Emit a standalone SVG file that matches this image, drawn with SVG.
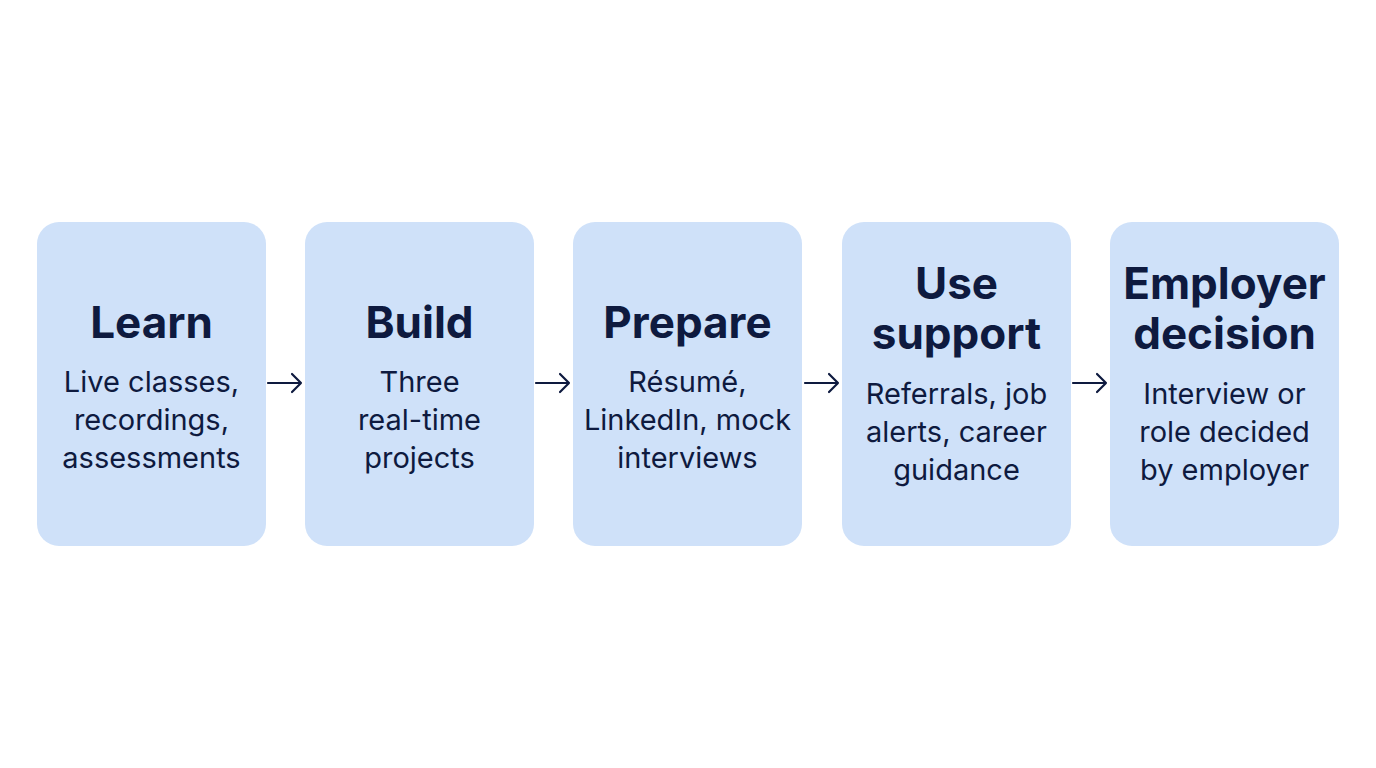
<svg xmlns="http://www.w3.org/2000/svg" width="1376" height="768" viewBox="0 0 1376 768">
<defs>
<style>
.box{fill:#cfe1f9}
.t{font-family:Inter,"Noto Sans",sans-serif;font-weight:700;font-size:44px;fill:#0e1a3f;text-anchor:middle}
.b{font-family:Inter,"Noto Sans",sans-serif;font-size:29px;fill:#0e1a3f;text-anchor:middle}
.c{stroke:#0e1a3f;stroke-width:2.2;fill:none;stroke-linecap:round;stroke-linejoin:round}
</style>
</defs>
<rect width="1376" height="768" fill="#fff"/>
<g id="learn"><rect class="box" x="37" y="222" width="229" height="324" rx="22"/>
<text class="t" x="151.5" y="338">Learn</text>
<text class="b" x="151.5" y="392">Live classes,</text><text class="b" x="151.5" y="430">recordings,</text><text class="b" x="151.5" y="468">assessments</text></g>
<g id="build"><rect class="box" x="305" y="222" width="229" height="324" rx="22"/>
<text class="t" x="419.5" y="338">Build</text>
<text class="b" x="419.5" y="392">Three</text><text class="b" x="419.5" y="430">real-time</text><text class="b" x="419.5" y="468">projects</text></g>
<g id="prepare"><rect class="box" x="573" y="222" width="229" height="324" rx="22"/>
<text class="t" x="687.5" y="338">Prepare</text>
<text class="b" x="687.5" y="392">Résumé,</text><text class="b" x="687.5" y="430">LinkedIn, mock</text><text class="b" x="687.5" y="468">interviews</text></g>
<g id="support"><rect class="box" x="842" y="222" width="229" height="324" rx="22"/>
<text class="t" x="956.5" y="299">Use</text><text class="t" x="956.5" y="349">support</text>
<text class="b" x="956.5" y="404">Referrals, job</text><text class="b" x="956.5" y="442">alerts, career</text><text class="b" x="956.5" y="480">guidance</text></g>
<g id="employer"><rect class="box" x="1110" y="222" width="229" height="324" rx="22"/>
<text class="t" x="1224.5" y="299">Employer</text><text class="t" x="1224.5" y="349">decision</text>
<text class="b" x="1224.5" y="404">Interview or</text><text class="b" x="1224.5" y="442">role decided</text><text class="b" x="1224.5" y="480">by employer</text></g>
<g id="connectors">
<path class="c" d="M268 383H301M292 374L301 383L292 392"/>
<path class="c" d="M536 383H569M560 374L569 383L560 392"/>
<path class="c" d="M805 383H838M829 374L838 383L829 392"/>
<path class="c" d="M1073 383H1106M1097 374L1106 383L1097 392"/>
</g>
</svg>
